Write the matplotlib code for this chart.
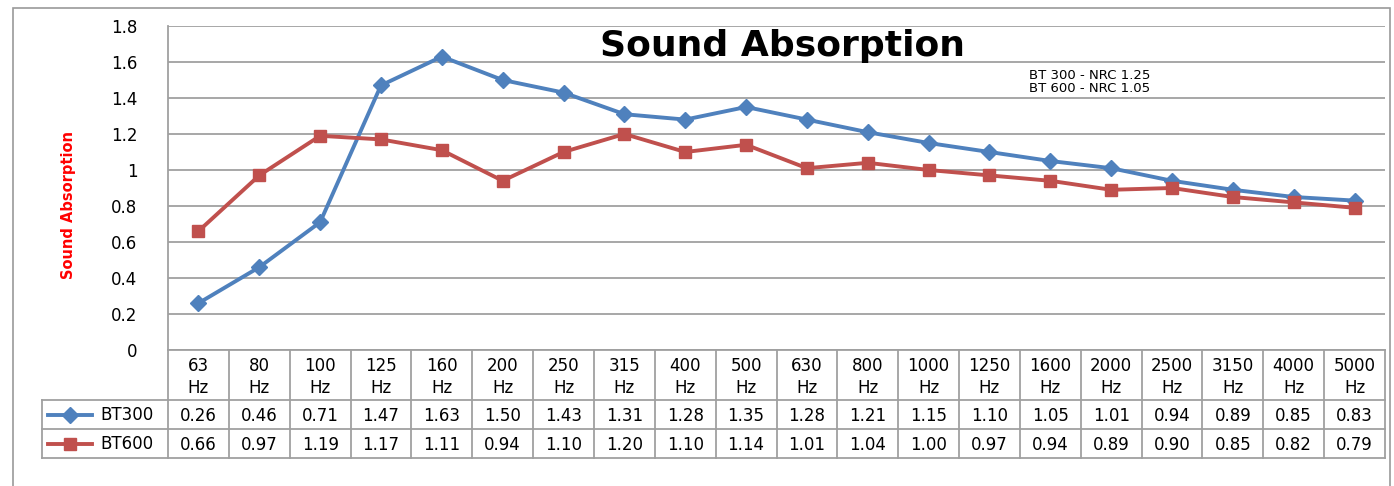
import matplotlib.pyplot as plt
from matplotlib.lines import Line2D
from matplotlib.patches import Rectangle

freqs = ["63", "80", "100", "125", "160", "200", "250", "315", "400", "500",
         "630", "800", "1000", "1250", "1600", "2000", "2500", "3150", "4000", "5000"]
bt300 = [0.26, 0.46, 0.71, 1.47, 1.63, 1.50, 1.43, 1.31, 1.28, 1.35,
         1.28, 1.21, 1.15, 1.10, 1.05, 1.01, 0.94, 0.89, 0.85, 0.83]
bt600 = [0.66, 0.97, 1.19, 1.17, 1.11, 0.94, 1.10, 1.20, 1.10, 1.14,
         1.01, 1.04, 1.00, 0.97, 0.94, 0.89, 0.90, 0.85, 0.82, 0.79]
series = [("BT300", bt300, "#4F81BD", "D", 8), ("BT600", bt600, "#C0504D", "s", 9)]
yticks = [0, 0.2, 0.4, 0.6, 0.8, 1, 1.2, 1.4, 1.6, 1.8]
ytick_labels = ["0", "0.2", "0.4", "0.6", "0.8", "1", "1.2", "1.4", "1.6", "1.8"]

W, H = 1394, 486
fig = plt.figure(figsize=(W / 100, H / 100), dpi=100)
grid_c = "#A0A0A0"


def px(xp, yp):
    # pixel position (from top-left) to figure fraction
    return xp / W, 1 - yp / H


# outer chart frame
fig.patches.append(Rectangle((13 / W, -0.1), (1390 - 13) / W, 1 - 8 / H + 0.1,
                             transform=fig.transFigure, fill=False,
                             edgecolor="#9A9A9A", lw=1.2))

left, right, top, bottom = 168, 1385, 26, 350
ax = fig.add_axes([left / W, 1 - bottom / H, (right - left) / W, (bottom - top) / H])
n = len(freqs)
x = list(range(n))
ax.set_xlim(-0.5, n - 0.5)
ax.set_ylim(0, 1.8)
ax.set_yticks(yticks)
ax.set_yticklabels(ytick_labels, fontsize=12)
ax.tick_params(axis="y", length=0, pad=22)
ax.set_xticks([])
ax.grid(axis="y", color=grid_c, lw=1.3)
ax.set_axisbelow(True)
for s in ["top", "right", "bottom"]:
    ax.spines[s].set_visible(False)
ax.spines["left"].set_color(grid_c)
ax.spines["left"].set_linewidth(1.3)

for name, vals, col, mk, ms in series:
    ax.plot(x, vals, color=col, lw=2.8, marker=mk, markersize=ms, zorder=3)

fig.text(*px(783, 46), "Sound Absorption", ha="center", va="center",
         fontsize=26, fontweight="bold")
fig.text(*px(1029, 82), "BT 300 - NRC 1.25\nBT 600 - NRC 1.05",
         fontsize=9.5, va="center", ha="left", linespacing=1.05)
fig.text(*px(68, 205), "Sound Absorption", rotation=90, color="#FF0000",
         fontsize=10.5, fontweight="bold", ha="center", va="center")

# data table below the plot
col_w = (right - left) / n
rows_y = [350, 400, 429, 458]
tab_left = 42
for i in range(n + 1):
    xp = left + i * col_w
    fig.add_artist(Line2D([xp / W] * 2, [px(0, 350)[1], px(0, 458)[1]], color=grid_c, lw=1.3))
fig.add_artist(Line2D([tab_left / W] * 2, [px(0, 400)[1], px(0, 458)[1]], color=grid_c, lw=1.3))
for k, yp in enumerate(rows_y):
    x0 = left if k == 0 else tab_left
    fig.add_artist(Line2D([x0 / W, right / W], [px(0, yp)[1]] * 2, color=grid_c, lw=1.3))

for i, f in enumerate(freqs):
    cx = left + (i + 0.5) * col_w
    fig.text(*px(cx, 366), f, ha="center", va="center", fontsize=12)
    fig.text(*px(cx, 388), "Hz", ha="center", va="center", fontsize=12)

for r, (name, vals, col, mk, ms) in enumerate(series):
    cy = (rows_y[r + 1] + rows_y[r + 2]) / 2
    fig.add_artist(Line2D([48 / W, 92 / W], [px(0, cy)[1]] * 2, color=col, lw=2.8))
    fig.add_artist(Line2D([70 / W], [px(0, cy)[1]], color=col, marker=mk, markersize=ms))
    fig.text(*px(100, cy), name, ha="left", va="center", fontsize=12)
    for i, v in enumerate(vals):
        cx = left + (i + 0.5) * col_w
        fig.text(*px(cx, cy + 1), f"{v:.2f}", ha="center", va="center", fontsize=12)

fig.savefig("out.png", dpi=100)
